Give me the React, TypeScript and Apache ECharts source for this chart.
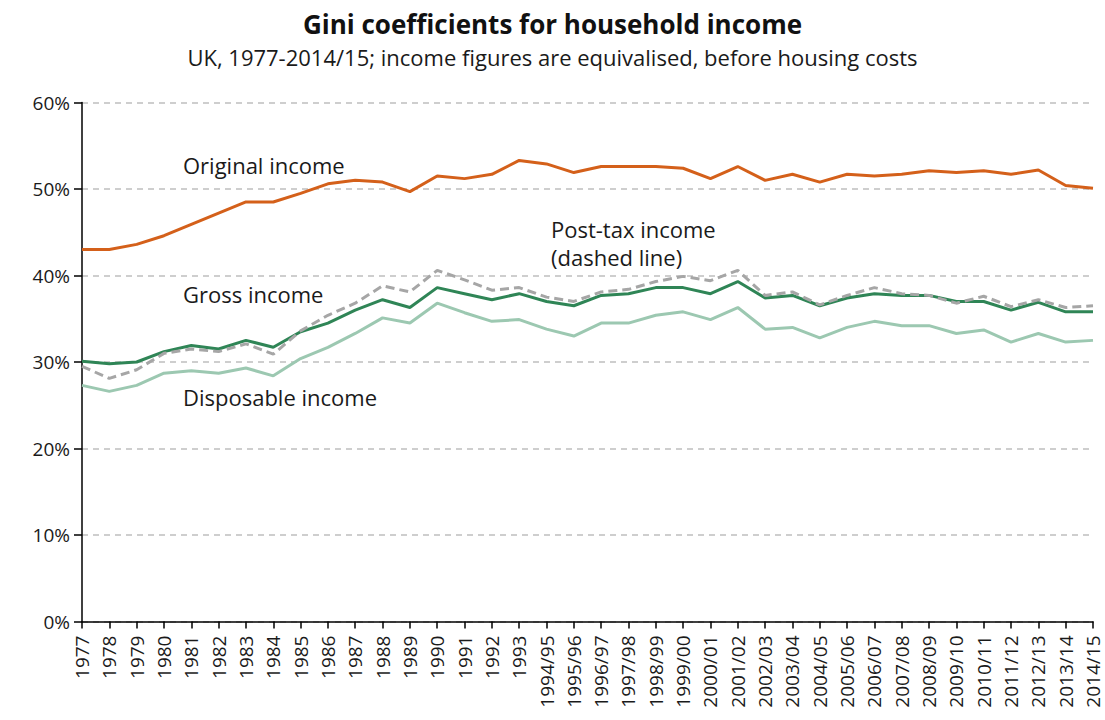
import React, { useEffect, useRef } from "react";
import * as echarts from "echarts";

const years: string[] = [
  "1977", "1978", "1979", "1980", "1981", "1982", "1983", "1984", "1985", "1986",
  "1987", "1988", "1989", "1990", "1991", "1992", "1993", "1994/95", "1995/96", "1996/97",
  "1997/98", "1998/99", "1999/00", "2000/01", "2001/02", "2002/03", "2003/04", "2004/05", "2005/06", "2006/07",
  "2007/08", "2008/09", "2009/10", "2010/11", "2011/12", "2012/13", "2013/14", "2014/15",
];

const originalIncome: number[] = [
  43.0, 43.0, 43.6, 44.6, 45.9, 47.2, 48.5, 48.5, 49.5, 50.6,
  51.0, 50.8, 49.7, 51.5, 51.2, 51.7, 53.3, 52.9, 51.9, 52.6,
  52.6, 52.6, 52.4, 51.2, 52.6, 51.0, 51.7, 50.8, 51.7, 51.5,
  51.7, 52.1, 51.9, 52.1, 51.7, 52.2, 50.4, 50.1,
];

const grossIncome: number[] = [
  30.1, 29.8, 30.0, 31.2, 31.9, 31.5, 32.5, 31.7, 33.5, 34.5,
  36.0, 37.2, 36.3, 38.6, 37.9, 37.2, 37.9, 37.0, 36.5, 37.7,
  37.9, 38.6, 38.6, 37.9, 39.3, 37.4, 37.7, 36.5, 37.4, 37.9,
  37.7, 37.7, 37.0, 37.0, 36.0, 36.9, 35.8, 35.8,
];

const postTaxIncome: number[] = [
  29.5, 28.1, 29.1, 31.0, 31.5, 31.2, 32.1, 30.9, 33.6, 35.4,
  36.8, 38.8, 38.1, 40.6, 39.5, 38.3, 38.6, 37.5, 37.0, 38.1,
  38.4, 39.3, 39.9, 39.4, 40.6, 37.7, 38.1, 36.6, 37.7, 38.6,
  37.9, 37.7, 36.8, 37.6, 36.4, 37.2, 36.3, 36.5,
];

const disposableIncome: number[] = [
  27.3, 26.6, 27.3, 28.7, 29.0, 28.7, 29.3, 28.4, 30.4, 31.7,
  33.3, 35.1, 34.5, 36.8, 35.7, 34.7, 34.9, 33.8, 33.0, 34.5,
  34.5, 35.4, 35.8, 34.9, 36.3, 33.8, 34.0, 32.8, 34.0, 34.7,
  34.2, 34.2, 33.3, 33.7, 32.3, 33.3, 32.3, 32.5,
];

const yTicks: number[] = [0, 10, 20, 30, 40, 50, 60];

const FONT = "'Open Sans', 'Noto Sans', sans-serif";

export default function App() {
  const ref = useRef<HTMLDivElement>(null);

  useEffect(() => {
    if (!ref.current) return;
    const chart = echarts.init(ref.current, null, { renderer: "svg" });
    const textColor = "#1a1a1a";
    const annot = (text: string, left: number, top: number) => ({
      type: "text",
      left,
      top,
      style: { text, fontFamily: FONT, fontSize: 22, fill: textColor },
    });
    chart.setOption({
      animation: false,
      backgroundColor: "#ffffff",
      textStyle: { fontFamily: FONT },
      title: {
        text: "Gini coefficients for household income",
        subtext: "UK, 1977-2014/15; income figures are equivalised, before housing costs",
        left: "center",
        top: 6,
        itemGap: 9,
        textStyle: { fontFamily: FONT, fontSize: 26, fontWeight: "bold", color: "#111" },
        subtextStyle: { fontFamily: FONT, fontSize: 22, color: textColor },
      },
      grid: { left: 82, right: 12, top: 102.5, bottom: 98.5, containLabel: false },
      xAxis: {
        type: "category",
        data: years,
        boundaryGap: false,
        axisLine: { show: true, lineStyle: { color: "#000", width: 1.5 } },
        axisTick: { show: true, length: 7, lineStyle: { color: "#000", width: 1.5 } },
        axisLabel: {
          rotate: 90,
          interval: 0,
          margin: 14,
          fontFamily: FONT,
          fontSize: 19,
          lineHeight: 16,
          color: textColor,
        },
        splitLine: { show: false },
      },
      yAxis: {
        type: "value",
        min: yTicks[0],
        max: yTicks[yTicks.length - 1],
        interval: 10,
        axisLine: { show: true, lineStyle: { color: "#000", width: 1.5 } },
        axisTick: { show: true, length: 8, lineStyle: { color: "#000", width: 1.5 } },
        axisLabel: {
          margin: 12,
          fontFamily: FONT,
          fontSize: 19,
          color: textColor,
          formatter: (v: number) => `${v}%`,
        },
        splitLine: { show: true, lineStyle: { color: "#BFBFBF", type: [6, 5], width: 1.5 } },
      },
      series: [
        {
          name: "Original income",
          type: "line",
          data: originalIncome,
          symbol: "none",
          lineStyle: { color: "#D4601A", width: 3 },
          z: 5,
        },
        {
          name: "Disposable income",
          type: "line",
          data: disposableIncome,
          symbol: "none",
          lineStyle: { color: "#9CC8B1", width: 3 },
          z: 2,
        },
        {
          name: "Gross income",
          type: "line",
          data: grossIncome,
          symbol: "none",
          lineStyle: { color: "#2F8556", width: 3 },
          z: 3,
        },
        {
          name: "Post-tax income",
          type: "line",
          data: postTaxIncome,
          symbol: "none",
          lineStyle: { color: "#A6A6A6", width: 3, type: [9, 5] },
          z: 4,
        },
      ],
      graphic: [
        annot("Original income", 183, 154),
        annot("Gross income", 183, 283),
        annot("Disposable income", 183, 386),
        annot("Post-tax income", 551, 218),
        annot("(dashed line)", 551, 246),
      ],
    });
    return () => chart.dispose();
  }, []);

  return (
    <div
      ref={ref}
      style={{ position: "fixed", left: 0, top: 0, width: 1105, height: 720, background: "#fff" }}
    />
  );
}
